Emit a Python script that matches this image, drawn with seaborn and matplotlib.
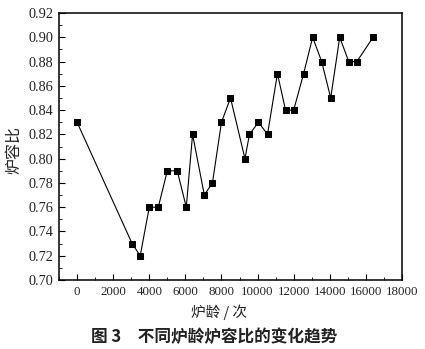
import matplotlib
matplotlib.use("Agg")
import matplotlib.pyplot as plt
from matplotlib.ticker import MultipleLocator
import seaborn as sns
import pandas as pd

furnace_age = [0, 3050, 3500, 4000, 4500, 5000, 5550, 6050, 6400, 7050, 7500,
               8000, 8500, 9300, 9550, 10050, 10550, 11100, 11550, 12000, 12550,
               13050, 13550, 14050, 14550, 15050, 15500, 16400]
volume_ratio = [0.83, 0.73, 0.72, 0.76, 0.76, 0.79, 0.79, 0.76, 0.82, 0.77, 0.78,
                0.83, 0.85, 0.80, 0.82, 0.83, 0.82, 0.87, 0.84, 0.84, 0.87,
                0.90, 0.88, 0.85, 0.90, 0.88, 0.88, 0.90]
xlabel = "炉龄 / 次"
ylabel = "炉容比"
caption = "图 3　不同炉龄炉容比的变化趋势"

df = pd.DataFrame({"age": furnace_age, "ratio": volume_ratio})

sns.set_style("white")
serif = ["Liberation Serif", "DejaVu Serif"]
cjk = ["Noto Sans CJK SC", "DejaVu Sans"]
plt.rcParams["font.family"] = serif

fig = plt.figure(figsize=(4.25, 3.49), dpi=100)
ax = fig.add_axes([59/425, 1-280/349, (402-59)/425, (280-13)/349])

sns.lineplot(data=df, x="age", y="ratio", ax=ax, color="black", linewidth=0.8,
             marker="s", markersize=4.6, markeredgecolor="black",
             markerfacecolor="black", sort=False)

ax.set_xlim(-1000, 18000)
ax.set_ylim(0.70, 0.92)
ax.xaxis.set_minor_locator(MultipleLocator(1000))
ax.yaxis.set_minor_locator(MultipleLocator(0.01))
ax.set_xticks(range(0, 18001, 2000))
ax.set_xticklabels([str(v) for v in range(0, 18001, 2000)])
ax.set_yticks([round(0.70 + 0.02*i, 2) for i in range(12)])
ax.set_yticklabels([f"{0.70 + 0.02*i:.2f}" for i in range(12)])
ax.tick_params(axis="both", which="major", direction="in", length=4, width=0.8,
               colors="black", top=False, right=False, bottom=True, left=True, pad=4)
ax.tick_params(axis="x", which="major", labelsize=9.3)
ax.tick_params(axis="y", which="major", labelsize=10.3)
ax.tick_params(axis="both", which="minor", direction="in", length=2, width=0.7,
               top=False, right=False, bottom=True, left=True)
for lab in ax.get_xticklabels() + ax.get_yticklabels():
    lab.set_color("#222222")
for s in ax.spines.values():
    s.set_color("black")
    s.set_linewidth(1.1)

ax.set_xlabel("")
ax.set_ylabel("")
fig.text(219/425, 1-312/349, xlabel, family=cjk, fontsize=10.5, ha="center", va="center", color="#222222")
fig.text(14/425, 1-150/349, ylabel, family=cjk, fontsize=11.5, ha="center", va="center",
         rotation=90, color="#222222")
fig.text(214/425, 1-337/349, caption, family=cjk, fontsize=12, fontweight="bold",
         ha="center", va="center", color="#222222")

fig.savefig("out.png", dpi=100, facecolor="white")
